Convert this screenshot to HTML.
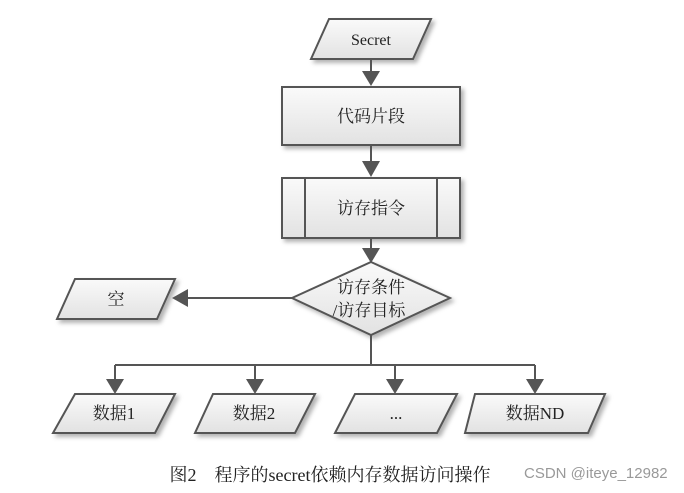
<!DOCTYPE html>
<html><head><meta charset="utf-8"><style>
html,body{margin:0;padding:0;background:#fff;width:684px;height:493px;overflow:hidden}
</style></head><body>
<svg width="684" height="493" viewBox="0 0 684 493" xmlns="http://www.w3.org/2000/svg" font-family="'Liberation Serif','Noto Serif CJK SC',serif">
<defs>
<linearGradient id="g" x1="0" y1="0" x2="0" y2="1"><stop offset="0" stop-color="#fafafa"/><stop offset="1" stop-color="#e2e2e2"/></linearGradient>
<filter id="s" x="-10%" y="-10%" width="130%" height="140%"><feDropShadow dx="3" dy="3" stdDeviation="2" flood-color="#000" flood-opacity="0.3"/></filter>
</defs>
<g stroke="#555" stroke-width="2" fill="url(#g)" filter="url(#s)">
<polygon points="329,19 431,19 413,59 311,59"/>
<rect x="282" y="87" width="178" height="58"/>
<rect x="282" y="178" width="178" height="60"/>
<polygon points="371,262 450,298 371,335 292,298"/>
<polygon points="75,279 175,279 157,319 57,319"/>
<polygon points="75,394 175,394 155,433 53,433"/>
<polygon points="213,394 315,394 295,433 195,433"/>
<polygon points="355,394 457,394 437,433 335,433"/>
<polygon points="475,394 605,394 588,433 465,433"/>
</g>
<g stroke="#555" stroke-width="2" fill="none">
<line x1="305" y1="178" x2="305" y2="238"/><line x1="437" y1="178" x2="437" y2="238"/>
<line x1="371" y1="59" x2="371" y2="74"/>
<line x1="371" y1="145" x2="371" y2="165"/>
<line x1="371" y1="238" x2="371" y2="252"/>
<line x1="292" y1="298" x2="185" y2="298"/>
<line x1="371" y1="335" x2="371" y2="365"/>
<line x1="115" y1="365" x2="535" y2="365"/>
<line x1="115" y1="365" x2="115" y2="382"/><line x1="255" y1="365" x2="255" y2="382"/>
<line x1="395" y1="365" x2="395" y2="382"/><line x1="535" y1="365" x2="535" y2="382"/>
</g>
<g fill="#555">
<polygon points="362,71 380,71 371,86"/>
<polygon points="362,161 380,161 371,177"/>
<polygon points="362,248 380,248 371,263"/>
<polygon points="188,289 188,307 172,298"/>
<polygon points="106,379 124,379 115,394"/>
<polygon points="246,379 264,379 255,394"/>
<polygon points="386,379 404,379 395,394"/>
<polygon points="526,379 544,379 535,394"/>
</g>
<g fill="#222" font-size="17" text-anchor="middle">
<text x="371" y="45" font-size="16">Secret</text>
<text x="371" y="122">代码片段</text>
<text x="371" y="214">访存指令</text>
<text x="371" y="293">访存条件</text>
<text x="369" y="316">/访存目标</text>
<text x="116" y="305">空</text>
<text x="114" y="419">数据1</text>
<text x="254" y="419">数据2</text>
<text x="396" y="419">...</text>
<text x="535" y="419">数据ND</text>
<text x="330" y="481" font-size="18">图2　程序的secret依赖内存数据访问操作</text>
</g>
<text x="524" y="478" font-family="'Liberation Sans',sans-serif" font-size="15" fill="#999">CSDN @iteye_12982</text>
</svg>
</body></html>
